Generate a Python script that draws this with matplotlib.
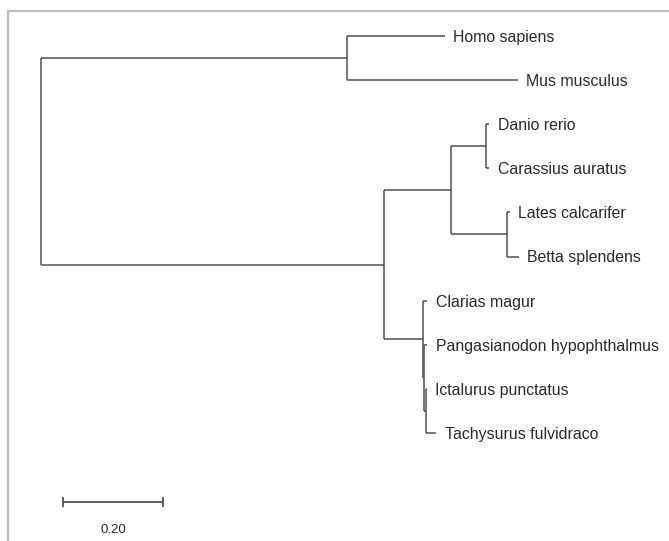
import matplotlib
matplotlib.use("Agg")
import matplotlib.pyplot as plt
from matplotlib.lines import Line2D

# tips, top to bottom, and their terminal branch lengths
taxa = ["Homo sapiens", "Mus musculus", "Danio rerio", "Carassius auratus",
        "Lates calcarifer", "Betta splendens", "Clarias magur",
        "Pangasianodon hypophthalmus", "Ictalurus punctatus", "Tachysurus fulvidraco"]
tip_len = [0.195, 0.340, 0.006, 0.006, 0.006, 0.024, 0.008, 0.006, 0.001, 0.020]

# internal nodes: children (tip index or node name) and branch length
node_names = ["mammals", "cyprinids", "percomorphs", "cyp_perc", "ict_tach",
              "pang_clade", "siluriforms", "fish", "root"]
node_children = [[0, 1], [2, 3], [4, 5], ["cyprinids", "percomorphs"], [8, 9],
                 [7, "ict_tach"], [6, "pang_clade"], ["cyp_perc", "siluriforms"],
                 ["mammals", "fish"]]
node_len = [0.608, 0.070, 0.111, 0.133, 0.004, 0.002, 0.078, 0.682, 0.0]

scale_len = 0.20

LINE = "#505050"
TEXT = "#2a2a2a"
plt.rcParams["font.family"] = ["Liberation Sans", "DejaVu Sans"]

fig = plt.figure(figsize=(6.69, 5.41), dpi=100)
ax = fig.add_axes([0, 0, 1, 1])
ax.set_xlim(-0.0815, 1.2485)
ax.set_ylim(11.45, -0.816)
ax.axis("off")


def draw(node, x0):
    if isinstance(node, int):
        x = x0 + tip_len[node]
        ax.plot([x0, x], [node, node], color=LINE, lw=1.1, solid_capstyle="butt")
        ax.annotate(taxa[node], (x, node), xytext=(6, -1), textcoords="offset points",
                    va="center", ha="left", fontsize=11.4, color=TEXT)
        return node
    k = node_names.index(node)
    x = x0 + node_len[k]
    ys = [draw(c, x) for c in node_children[k]]
    y = (ys[0] + ys[-1]) / 2
    ax.plot([x, x], [ys[0], ys[-1]], color=LINE, lw=1.1, solid_capstyle="butt")
    ax.plot([x0, x], [y, y], color=LINE, lw=1.1, solid_capstyle="butt")
    return y


draw("root", 0.0)

# scale bar
sx = 0.043
ax.plot([sx, sx + scale_len], [10.57, 10.57], color=LINE, lw=1.3,
        marker="|", markersize=7, markeredgewidth=1.3)
ax.text(sx + scale_len / 2, 11.2, "%.2f" % scale_len, ha="center", va="center",
        fontsize=9.5, color=TEXT)

# gray frame on top and left
fig.add_artist(Line2D([8 / 669, 1], [1 - 11 / 541, 1 - 11 / 541],
                      color="#bdbdbd", lw=1.6, transform=fig.transFigure))
fig.add_artist(Line2D([8 / 669, 8 / 669], [0, 1 - 11 / 541],
                      color="#bdbdbd", lw=1.6, transform=fig.transFigure))

fig.savefig("out.png", dpi=100)
